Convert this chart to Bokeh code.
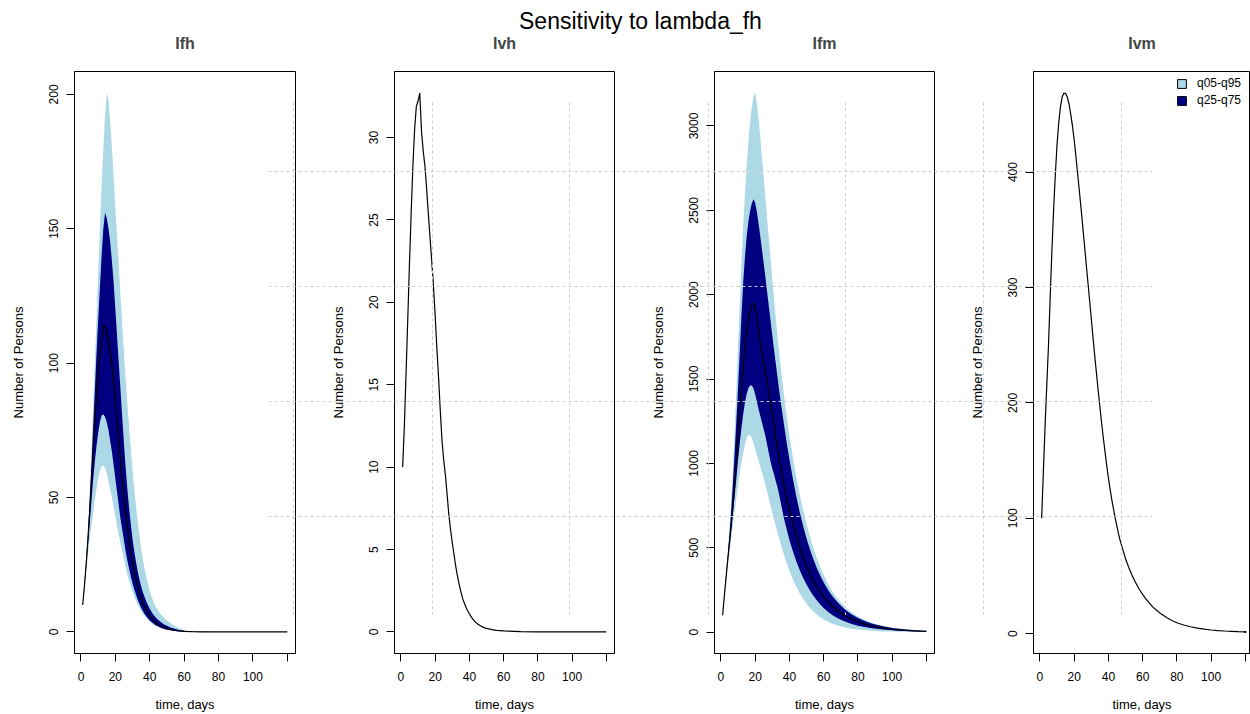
from bokeh.plotting import figure
from bokeh.layouts import row, column
from bokeh.models import Range1d, FixedTicker, Legend, LegendItem, Div, Grid
from bokeh.embed import file_html
from bokeh.resources import INLINE

FONT = "Liberation Sans"

# ---------------- data ----------------
x_ticks = [0, 20, 40, 60, 80, 100, 120]
x_tick_labels = {0: "0", 20: "20", 40: "40", 60: "60", 80: "80", 100: "100", 120: ""}
t_first, t_last = 1, 120

# Ifh
ifh_days = list(range(1, 61)) + [65, 70, 80, 90, 100, 110, 120]
ifh_med = [10, 17, 25, 34, 44, 55, 66, 77, 87, 96, 103, 109, 113, 114, 112, 108, 104, 99, 93, 86,
           79, 71, 64, 57, 50, 44, 39, 34, 30, 26, 22.5, 19.5, 17, 14.6, 12.6, 10.9, 9.4, 8.1, 7.0, 6.0,
           5.2, 4.5, 3.8, 3.3, 2.8, 2.4, 2.0, 1.7, 1.45, 1.25, 1.05, 0.9, 0.75, 0.63, 0.53, 0.45, 0.38, 0.32, 0.27, 0.22,
           0.1, 0.05, 0, 0, 0, 0, 0]
ifh_q75 = [10, 17.5, 26, 36, 48, 61, 75, 89, 103, 116, 128, 140, 150, 156, 154, 150, 145, 138, 130, 120,
           110, 100, 90, 80, 70, 61, 53, 46, 40, 34.5, 30, 26, 22.5, 19.5, 17, 14.8, 13, 11.3, 9.9, 8.6,
           7.5, 6.5, 5.7, 5.0, 4.4, 3.9, 3.4, 3.0, 2.6, 2.3, 2.0, 1.7, 1.5, 1.3, 1.1, 0.9, 0.75, 0.6, 0.5, 0.4,
           0.15, 0.05, 0, 0, 0, 0, 0]
ifh_q95 = [10, 18, 27, 38, 51, 66, 82, 99, 116, 133, 150, 166, 180, 192, 200.5, 198, 190, 180, 169, 158,
           147, 136, 125, 114, 104, 94, 85, 76, 68, 60, 53, 47, 41, 36, 31, 27, 23.5, 20.5, 17.8, 15.4,
           13.3, 11.5, 10, 8.8, 7.8, 7, 6.2, 5.5, 4.9, 4.3, 3.8, 3.3, 2.9, 2.5, 2.1, 1.8, 1.5, 1.2, 0.9, 0.6,
           0.2, 0.05, 0, 0, 0, 0, 0]
ifh_q25 = [10, 16.5, 24, 32, 40, 48, 56, 63, 69, 74, 78, 80.5, 81, 80, 78, 75, 71, 67, 62, 57,
           52, 47, 42, 38, 34, 30, 26.5, 23.5, 20.5, 18, 15.8, 13.8, 12, 10.4, 9, 7.8, 6.7, 5.8, 5.0, 4.3,
           3.7, 3.2, 2.7, 2.3, 2.0, 1.7, 1.45, 1.2, 1.0, 0.85, 0.72, 0.6, 0.5, 0.42, 0.35, 0.28, 0.22, 0.18, 0.14, 0.1,
           0.05, 0, 0, 0, 0, 0, 0]
ifh_q05 = [10, 16, 22, 28, 34, 39, 44, 49, 53, 57, 60, 61.5, 62, 61, 59, 56, 53, 50, 46.5, 43,
           39.5, 36, 33, 30, 27, 24, 21.5, 19, 17, 15, 13.2, 11.6, 10.2, 8.9, 7.8, 6.8, 5.9, 5.1, 4.4, 3.8,
           3.3, 2.8, 2.4, 2.1, 1.8, 1.5, 1.3, 1.1, 0.9, 0.75, 0.62, 0.52, 0.43, 0.35, 0.29, 0.24, 0.2, 0.16, 0.13, 0.1,
           0.03, 0, 0, 0, 0, 0, 0]
ifh_yticks = [0, 50, 100, 150, 200]

# Ivh
ivh_days = list(range(1, 51)) + [52, 54, 56, 58, 60, 70, 80, 90, 100, 110, 120]
ivh_med = [10, 12.5, 15.7, 19, 22.4, 25.5, 28.3, 30.5, 31.9, 32.2, 32.7, 30.4, 29.2, 28.3, 26.9, 25.4, 23.9, 22.5, 21, 19.2,
           17.2, 15.4, 13.4, 11.6, 10.4, 9.5, 8.3, 7.1, 6.2, 5.4, 4.7, 4.0, 3.4, 2.9, 2.45, 2.05, 1.75, 1.5, 1.28, 1.1,
           0.93, 0.78, 0.65, 0.55, 0.47, 0.4, 0.34, 0.29, 0.25, 0.22,
           0.17, 0.13, 0.1, 0.08, 0.06, 0.02, 0, 0, 0, 0, 0]
ivh_yticks = [0, 5, 10, 15, 20, 25, 30]

# Ifm
ifm_days = list(range(1, 41)) + list(range(42, 81, 2)) + list(range(84, 121, 4))
ifm_med = [100, 215, 325, 430, 530, 630, 740, 870, 1010, 1160,
           1310, 1450, 1580, 1690, 1780, 1850, 1905, 1940, 1950, 1920,
           1860, 1785, 1710, 1650, 1595, 1540, 1480, 1420, 1360, 1295,
           1230, 1160, 1090, 1030, 970, 915, 862, 815, 768, 725,
           650, 575, 505, 445, 392, 345, 303, 267, 236, 210,
           188, 165, 145, 128, 113, 100, 88, 78, 69, 61,
           47, 36, 28, 21.5, 16.5, 12.5, 9.5, 7.2, 5.5, 4.2]
ifm_q75 = [100, 218, 335, 455, 580, 720, 880, 1060, 1250, 1450,
           1660, 1880, 2070, 2220, 2340, 2430, 2495, 2540, 2565, 2545,
           2490, 2420, 2345, 2265, 2185, 2100, 2015, 1930, 1845, 1760,
           1675, 1595, 1515, 1435, 1360, 1290, 1220, 1150, 1085, 1025,
           910, 805, 712, 630, 555, 490, 432, 380, 335, 295,
           260, 229, 202, 178, 157, 138, 122, 107, 95, 84,
           65, 51, 40, 31, 24, 19, 15, 12, 9.5, 7.5]
ifm_q95 = [100, 225, 350, 480, 620, 780, 970, 1190, 1440, 1700,
           1950, 2190, 2410, 2600, 2760, 2900, 3020, 3110, 3170, 3195,
           3130, 3040, 2930, 2810, 2690, 2570, 2450, 2330, 2210, 2090,
           1975, 1865, 1760, 1660, 1565, 1475, 1390, 1310, 1235, 1165,
           1035, 920, 815, 722, 640, 565, 498, 438, 385, 338,
           296, 259, 227, 199, 175, 154, 135, 119, 105, 93,
           72, 56, 44, 34, 27, 21, 16.5, 13, 10, 8]
ifm_q25 = [100, 212, 320, 420, 515, 610, 705, 805, 910, 1020,
           1120, 1210, 1290, 1360, 1410, 1445, 1462, 1462, 1445, 1410,
           1365, 1320, 1280, 1240, 1200, 1160, 1110, 1060, 1010, 970,
           935, 895, 860, 815, 765, 715, 665, 625, 585, 545,
           480, 420, 368, 322, 282, 246, 215, 188, 164, 143,
           125, 109, 95, 83, 73, 64, 56, 49, 43, 38,
           30, 23, 18, 14, 11, 8.5, 6.5, 5, 3.8, 3]
ifm_q05 = [100, 205, 300, 390, 475, 555, 635, 715, 795, 870,
           940, 1005, 1060, 1110, 1150, 1170, 1168, 1150, 1120, 1085,
           1050, 1015, 980, 945, 910, 870, 830, 790, 750, 710,
           670, 630, 590, 555, 520, 485, 452, 420, 390, 362,
           312, 268, 230, 197, 168, 143, 122, 104, 88, 75,
           64, 54, 46, 39, 33, 28, 24, 20, 17, 14.5,
           10.5, 7.6, 5.5, 4, 3, 2.2, 1.6, 1.2, 0.9, 0.7]
ifm_yticks = [0, 500, 1000, 1500, 2000, 2500, 3000]

# Ivm (quantile bands collapse onto the median)
ivm_days = list(range(1, 51)) + list(range(52, 81, 2)) + list(range(84, 121, 4))
ivm_med = [100, 140, 180, 215, 250, 292, 332, 368, 398, 424,
           443, 457, 465, 468.5, 468, 465, 459, 450, 440, 428,
           414, 399, 384, 369, 353, 337, 321, 305, 289, 273,
           257, 241, 226, 211, 197, 183, 170, 158, 146, 135,
           125, 116, 108, 100, 93, 86, 80, 75, 70, 65,
           57, 50, 44, 38.5, 34, 30, 26.5, 23, 20.5, 18, 16, 14, 12.3, 10.8, 9.5,
           7.5, 6, 4.8, 3.9, 3.2, 2.7, 2.3, 2, 1.7, 1.5]
ivm_yticks = [0, 100, 200, 300, 400]

legend_labels = ["q05-q95", "q25-q75"]
band_colors = ["lightblue", "navy"]

# ---------------- layout ----------------
FIG_H = 714
TOP, BOTTOM, LEFT = 71, 61, 66
FRAME_W = 221
X_LO = t_first - 0.04 * (t_last - t_first)
X_HI = t_last + 0.04 * (t_last - t_first)


def yrange(vals):
    lo, hi = min(vals), max(vals)
    ext = 0.04 * (hi - lo)
    return Range1d(lo - ext, hi + ext)


def panel(title, width, left, frame_w, yr, yticks):
    x_end = X_LO + (frame_w / FRAME_W) * (X_HI - X_LO)
    p = figure(width=width, height=FIG_H, x_range=Range1d(X_LO, x_end), y_range=yr,
               toolbar_location=None, output_backend="svg",
               min_border_left=left, min_border_right=width - left - frame_w,
               min_border_top=TOP, min_border_bottom=BOTTOM, title=title)
    p.title.text_font = FONT
    p.title.text_font_size = "16px"
    p.title.text_font_style = "bold"
    p.title.align = "center"
    p.title.standoff = 39
    p.outline_line_color = "black"
    p.outline_line_alpha = 1
    p.outline_line_width = 1
    p.grid.visible = False
    p.background_fill_color = "white"
    p.border_fill_color = "white"
    for ax in p.axis:
        ax.axis_line_color = "black"
        ax.major_tick_line_color = "black"
        ax.major_tick_out = 8
        ax.major_tick_in = 0
        ax.minor_tick_line_color = None
        ax.major_label_text_font = FONT
        ax.major_label_text_font_size = "12px"
        ax.major_label_text_color = "black"
        ax.axis_label_text_font = FONT
        ax.axis_label_text_font_size = "13px"
        ax.axis_label_text_font_style = "normal"
        ax.axis_label_text_color = "black"
    p.xaxis.ticker = FixedTicker(ticks=x_ticks)
    p.xaxis.major_label_overrides = x_tick_labels
    p.xaxis.major_label_standoff = 10
    p.xaxis.axis_label = "time, days"
    p.xaxis.axis_label_standoff = 13
    p.yaxis.ticker = FixedTicker(ticks=yticks)
    p.yaxis.major_label_orientation = "vertical"
    p.yaxis.major_label_standoff = 8
    p.yaxis.axis_label = "Number of Persons"
    p.yaxis.axis_label_standoff = 21
    return p


p1 = panel("Ifh", 327, 74, FRAME_W, yrange(ifh_q05 + ifh_q95), ifh_yticks)
p1.varea(x=ifh_days, y1=ifh_q05, y2=ifh_q95, fill_color=band_colors[0])
p1.varea(x=ifh_days, y1=ifh_q25, y2=ifh_q75, fill_color=band_colors[1])
p1.line(ifh_days, ifh_med, line_color="black", line_width=1.2)

p2 = panel("Ivh", 320, LEFT, FRAME_W, yrange(ivh_med), ivh_yticks)
p2.line(ivh_days, ivh_med, line_color="black", line_width=1.2)

p3 = panel("Ifm", 319, LEFT, FRAME_W, yrange(ifm_q05 + ifm_q95), ifm_yticks)
p3.varea(x=ifm_days, y1=ifm_q05, y2=ifm_q95, fill_color=band_colors[0])
p3.varea(x=ifm_days, y1=ifm_q25, y2=ifm_q75, fill_color=band_colors[1])
p3.line(ifm_days, ifm_med, line_color="black", line_width=1.2)

P4_W = 284
p4 = panel("Ivm", P4_W, LEFT, P4_W - LEFT, yrange(ivm_med), ivm_yticks)
# collapsed quantile bands (zero height); their outline is only kept on the last, flat
# point, where it coincides with the median line, and serves as the legend swatch border
n4 = len(ivm_days)
outline_alpha = [0.0] * (n4 - 1) + [1.0]
bands4 = [p4.vbar(x=ivm_days, bottom=ivm_med, top=ivm_med, width=1, fill_color=c,
                  line_color="black", line_width=1, line_alpha=outline_alpha) for c in band_colors]
p4.line(ivm_days, ivm_med, line_color="black", line_width=1.2)
legend = Legend(items=[LegendItem(label=l, renderers=[r], index=n4 - 1)
                       for l, r in zip(legend_labels, bands4)],
                location=(143, 546), orientation="vertical", padding=0, margin=0, spacing=3,
                glyph_width=11, glyph_height=11, label_height=11, label_standoff=10,
                label_text_font=FONT, label_text_font_size="12px", label_text_color="black",
                background_fill_alpha=0, border_line_color=None)
p4.add_layout(legend)

# dotted grid overlay spanning across the panels
overlay = figure(width=884, height=515, x_range=Range1d(0, 884), y_range=Range1d(0, 515),
                 x_axis_type=None, y_axis_type=None, min_border=0, toolbar_location=None,
                 output_backend="svg", outline_line_color=None,
                 background_fill_alpha=0, border_fill_alpha=0,
                 styles={"position": "absolute", "left": "268px", "top": "100px",
                         "pointer-events": "none", "z-index": "10"})
overlay.add_layout(Grid(dimension=0, ticker=FixedTicker(ticks=[25, 164, 301, 440, 577, 715, 853]),
                        grid_line_color="#cfcfcf", grid_line_dash="3 3", grid_line_width=1))
overlay.add_layout(Grid(dimension=1, ticker=FixedTicker(ticks=[99, 214, 329, 444]),
                        grid_line_color="#cfcfcf", grid_line_dash="3 3", grid_line_width=1))

title = Div(text='<span style="font-family:\'Liberation Sans\',Arial,sans-serif;font-size:23px;'
                 'line-height:24px;position:relative;top:9px;margin-left:519px;white-space:nowrap;'
                 'color:#000">Sensitivity to lambda_fh</span>',
            width=1250, height=36, margin=0,
            styles={"position": "absolute", "left": "0px", "top": "0px", "pointer-events": "none",
                    "z-index": "11"})

layout = column(row(p1, p2, p3, p4), overlay, title)

open("out.html", "w").write(file_html(layout, INLINE))
